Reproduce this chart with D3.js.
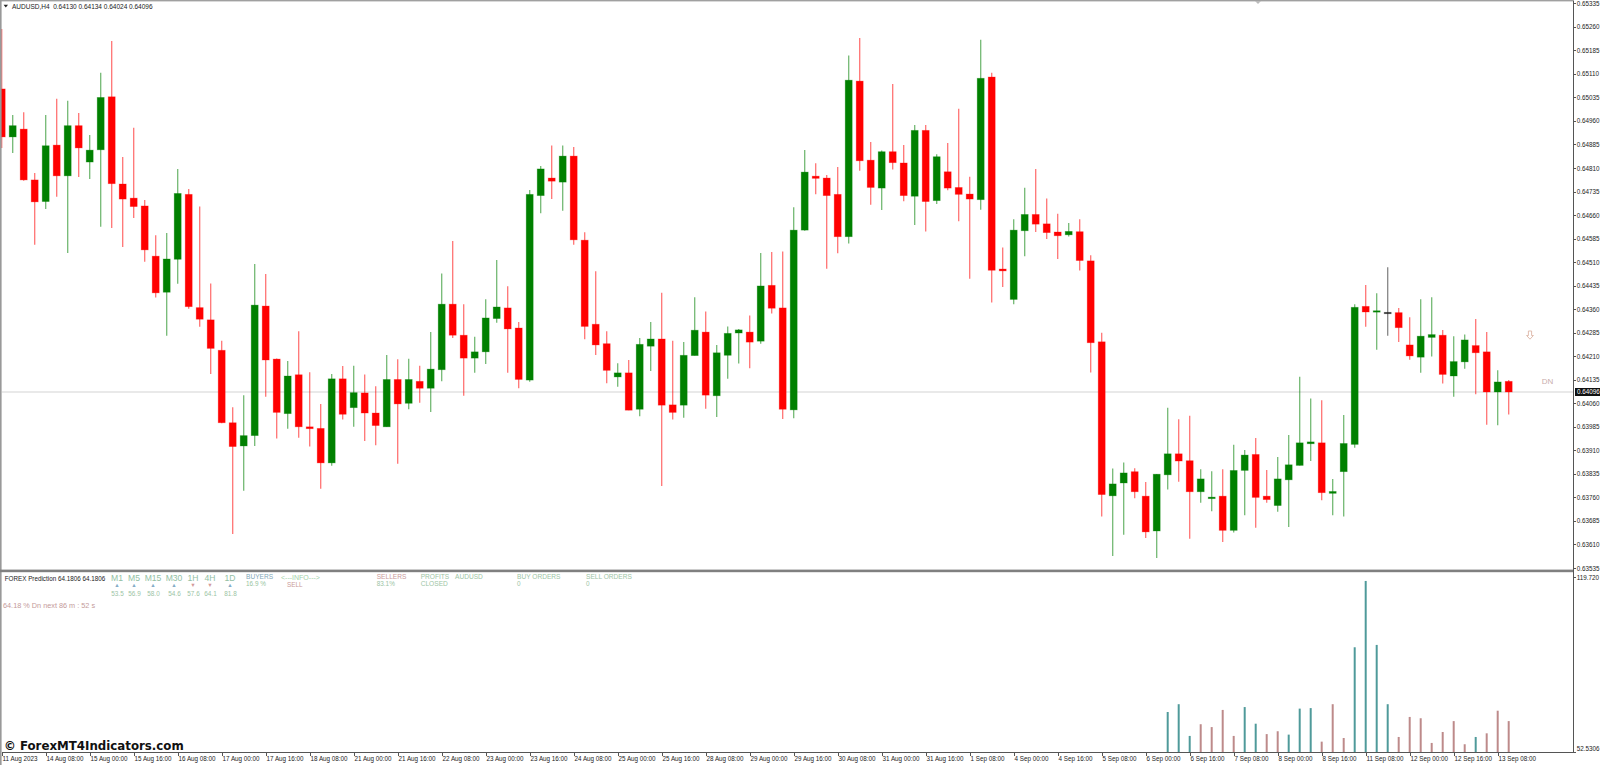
<!DOCTYPE html>
<html>
<head>
<meta charset="utf-8">
<title>AUDUSD,H4</title>
<script src="https://cdn.jsdelivr.net/npm/d3@7"></script>
<style>
  html, body { margin: 0; padding: 0; background: #fff; overflow: hidden; }
  svg { display: block; font-family: "Liberation Sans", sans-serif; }
  .axis path, .axis line { stroke: #555; shape-rendering: crispEdges; }
  .axis text { fill: #1c1c1c; font-size: 6.3px; }
  .panel text { font-size: 6.4px; }
</style>
</head>
<body>
<div id="chart"></div>
<script>
// H4 candles
var opens = [
  0.65062,0.64909,0.64934,0.64772,0.64703,0.64883,0.64785,0.64945,0.64829,0.64868,
  0.65037,0.64759,0.64714,0.64689,0.64529,0.64414,0.64519,0.64726,0.64365,0.64326,
  0.64229,0.63998,0.63924,0.63957,0.64370,0.64201,0.64027,0.64151,0.63985,0.63980,
  0.63870,0.64138,0.64046,0.64093,0.64029,0.63985,0.64136,0.64060,0.64130,0.64108,
  0.64167,0.64376,0.64277,0.64204,0.64224,0.64330,0.64364,0.64300,0.64134,0.64722,
  0.64778,0.64765,0.64848,0.64580,0.64312,0.64250,0.64144,0.64157,0.64041,0.64242,
  0.64265,0.64055,0.64054,0.64212,0.64287,0.64084,0.64213,0.64284,0.64287,0.64258,
  0.64436,0.64364,0.64039,0.64612,0.64784,0.64778,0.64726,0.64591,0.65087,0.64835,
  0.64746,0.64862,0.64826,0.64720,0.64930,0.64706,0.64798,0.64748,0.64727,0.64709,
  0.65100,0.64488,0.64391,0.64610,0.64662,0.64632,0.64606,0.64597,0.64607,0.64514,
  0.64256,0.63765,0.63806,0.63842,0.63764,0.63653,0.63832,0.63899,0.63877,0.63778,
  0.63756,0.63764,0.63655,0.63846,0.63897,0.63764,0.63734,0.63816,0.63862,0.63931,
  0.63934,0.63773,0.63842,0.63929,0.64369,0.64352,0.64350,0.64349,0.64246,0.64207,
  0.64270,0.64277,0.64147,0.64192,0.64244,0.64224,0.64096,0.64130
];
var highs = [
  0.65253,0.64979,0.64988,0.64794,0.64979,0.65031,0.65024,0.64985,0.64915,0.65114,
  0.65215,0.64845,0.64938,0.64708,0.64596,0.64603,0.64807,0.64743,0.64687,0.64442,
  0.64259,0.64047,0.64086,0.64504,0.64472,0.64203,0.64195,0.64290,0.64159,0.64058,
  0.64153,0.64179,0.64180,0.64152,0.64114,0.64214,0.64200,0.64202,0.64180,0.64287,
  0.64474,0.64577,0.64376,0.64272,0.64392,0.64517,0.64433,0.64319,0.64740,0.64816,
  0.64882,0.64882,0.64877,0.64605,0.64481,0.64290,0.64188,0.64198,0.64268,0.64319,
  0.64412,0.64259,0.64255,0.64398,0.64353,0.64246,0.64305,0.64297,0.64340,0.64539,
  0.64542,0.64544,0.64685,0.64867,0.64825,0.64788,0.64813,0.65169,0.65224,0.64893,
  0.64866,0.65078,0.64883,0.64947,0.64947,0.64854,0.64890,0.64999,0.64782,0.65219,
  0.65114,0.64557,0.64647,0.64747,0.64807,0.64713,0.64664,0.64635,0.64647,0.64532,
  0.64285,0.63852,0.63871,0.63853,0.63809,0.63835,0.64046,0.64009,0.64020,0.63850,
  0.63843,0.63850,0.63928,0.63911,0.63949,0.63847,0.63889,0.63959,0.64145,0.64075,
  0.64070,0.63819,0.64023,0.64376,0.64437,0.64411,0.64494,0.64364,0.64334,0.64392,
  0.64398,0.64294,0.64274,0.64279,0.64329,0.64287,0.64165,0.64134
];
var lows = [
  0.64874,0.64858,0.64769,0.64565,0.64679,0.64718,0.64539,0.64781,0.64775,0.64623,
  0.64619,0.64558,0.64651,0.64511,0.64397,0.64275,0.64441,0.64361,0.64304,0.64153,
  0.63996,0.63643,0.63781,0.63924,0.64081,0.63948,0.63979,0.63950,0.63922,0.63788,
  0.63861,0.64008,0.63985,0.63940,0.63926,0.63985,0.63867,0.64041,0.64062,0.64032,
  0.64130,0.64268,0.64084,0.64157,0.64185,0.64317,0.64157,0.64108,0.64129,0.64666,
  0.64711,0.64674,0.64565,0.64264,0.64214,0.64124,0.64113,0.64038,0.64019,0.64163,
  0.63796,0.64008,0.64014,0.64212,0.64043,0.64016,0.64138,0.64187,0.64172,0.64250,
  0.64346,0.64010,0.64012,0.64610,0.64726,0.64489,0.64538,0.64569,0.64801,0.64693,
  0.64676,0.64805,0.64704,0.64628,0.64608,0.64695,0.64739,0.64640,0.64457,0.64677,
  0.64381,0.64431,0.64376,0.64529,0.64606,0.64584,0.64520,0.64592,0.64483,0.64158,
  0.63699,0.63573,0.63641,0.63757,0.63631,0.63567,0.63785,0.63810,0.63628,0.63743,
  0.63716,0.63618,0.63648,0.63703,0.63663,0.63743,0.63714,0.63666,0.63862,0.63876,
  0.63751,0.63703,0.63699,0.63918,0.64304,0.64231,0.64275,0.64255,0.64199,0.64157,
  0.64209,0.64123,0.64081,0.64170,0.64089,0.63992,0.63990,0.64024
];
var closes = [
  0.64909,0.64945,0.64772,0.64702,0.64881,0.64785,0.64945,0.64874,0.64867,0.65035,
  0.64760,0.64711,0.64687,0.64549,0.64412,0.64520,0.64729,0.64368,0.64328,0.64235,
  0.63998,0.63922,0.63957,0.64373,0.64198,0.64031,0.64147,0.63985,0.63979,0.63870,
  0.64138,0.64025,0.64094,0.64029,0.63989,0.64136,0.64058,0.64136,0.64108,0.64169,
  0.64376,0.64277,0.64204,0.64224,0.64332,0.64367,0.64297,0.64136,0.64726,0.64807,
  0.64768,0.64848,0.64581,0.64305,0.64246,0.64165,0.64157,0.64038,0.64248,0.64265,
  0.64054,0.64031,0.64213,0.64293,0.64086,0.64221,0.64283,0.64294,0.64255,0.64434,
  0.64363,0.64041,0.64612,0.64797,0.64777,0.64722,0.64591,0.65090,0.64833,0.64748,
  0.64862,0.64827,0.64722,0.64930,0.64703,0.64846,0.64746,0.64726,0.64711,0.65096,
  0.64484,0.64482,0.64612,0.64662,0.64631,0.64604,0.64594,0.64608,0.64515,0.64253,
  0.63769,0.63803,0.63838,0.63778,0.63650,0.63834,0.63899,0.63876,0.63778,0.63819,
  0.63761,0.63655,0.63846,0.63895,0.63760,0.63753,0.63819,0.63864,0.63934,0.63937,
  0.63775,0.63779,0.63932,0.64366,0.64351,0.64355,0.64350,0.64301,0.64211,0.64274,
  0.64279,0.64152,0.64193,0.64262,0.64221,0.64096,0.64128,0.64096
];

var priceTicks = [
  0.65335,0.65260,0.65185,0.65110,0.65035,0.64960,0.64885,0.64810,0.64735,0.64660,
  0.64585,0.64510,0.64435,0.64360,0.64285,0.64210,0.64135,0.64060,0.63985,0.63910,
  0.63835,0.63760,0.63685,0.63610,0.63535
];
var lastPrice = 0.64096;

// one date label every 4 candles
var dateLabels = [
  "11 Aug 2023","14 Aug 08:00","15 Aug 00:00","15 Aug 16:00","16 Aug 08:00","17 Aug 00:00",
  "17 Aug 16:00","18 Aug 08:00","21 Aug 00:00","21 Aug 16:00","22 Aug 08:00","23 Aug 00:00",
  "23 Aug 16:00","24 Aug 08:00","25 Aug 00:00","25 Aug 16:00","28 Aug 08:00","29 Aug 00:00",
  "29 Aug 16:00","30 Aug 08:00","31 Aug 00:00","31 Aug 16:00","1 Sep 08:00","4 Sep 00:00",
  "4 Sep 16:00","5 Sep 08:00","6 Sep 00:00","6 Sep 16:00","7 Sep 08:00","8 Sep 00:00",
  "8 Sep 16:00","11 Sep 08:00","12 Sep 00:00","12 Sep 16:00","13 Sep 08:00"
];

// FOREX Prediction histogram, only the last 32 candles have a bar
var histStart = 106;
var histValues = [
  67.8,70.8,58.6,63.1,62.0,68.6,58.6,69.7,63.3,59.3,60.4,59.1,69.1,69.3,56.4,70.8,
  57.8,92.7,118.2,93.6,70.8,58.2,65.9,65.4,55.9,60.1,64.3,55.4,58.2,59.6,68.3,64.3
];
var histSides = [
  "b","b","b","s","s","s","s","b","b","s","s","b","b","b","s","s",
  "s","b","b","b","b","s","s","s","s","s","s","s","b","s","s","s"
];
var histTicks = [119.720, 52.5306];

var tfNames = ["M1","M5","M15","M30","1H","4H","1D"];
var tfValues = ["53.5","56.9","58.0","54.6","57.6","64.1","81.8"];
var tfSides = ["up","up","up","up","dn","dn","up"];
var tfCenters = [117,134,153,174,193,210,230];

var width = 1600, height = 765;
var plotLeft = 1.7, plotRight = 1573.5;
var lastIndex = opens.length - 1;

var svg = d3.select("#chart").append("svg")
  .attr("width", width)
  .attr("height", height);

var x = d3.scaleLinear().domain([0, lastIndex]).range([plotLeft, 1508.7]);
var y = d3.scaleLinear().domain([0.63535, 0.65335]).range([568, 3.3]);
var yHist = d3.scaleLinear().domain([52.5306, 119.720]).range([751.7, 577]);

var candles = opens.map(function(o, i) {
  return { i: i, open: o, high: highs[i], low: lows[i], close: closes[i] };
});

function candleColor(d) {
  if (d.close > d.open) return "#008000";
  if (d.close < d.open) return "#ff0000";
  return "#222";
}

// bid line goes under the candles
svg.append("line")
  .attr("x1", plotLeft).attr("x2", plotRight)
  .attr("y1", y(lastPrice)).attr("y2", y(lastPrice))
  .attr("stroke", "#d4d4d4").attr("stroke-width", 1.2);

var candleGroup = svg.append("g").attr("class", "candles");

candleGroup.selectAll("line")
  .data(candles)
  .enter()
  .append("line")
  .attr("x1", function(d) { return x(d.i); })
  .attr("x2", function(d) { return x(d.i); })
  .attr("y1", function(d) { return y(d.high); })
  .attr("y2", function(d) { return y(d.low); })
  .attr("stroke", candleColor)
  .attr("stroke-width", 1.3)
  .attr("stroke-opacity", 0.55);

candleGroup.selectAll("rect")
  .data(candles)
  .enter()
  .append("rect")
  .attr("x", function(d) { return x(d.i) - 3.5; })
  .attr("width", 7)
  .attr("y", function(d) { return y(Math.max(d.open, d.close)); })
  .attr("height", function(d) { return Math.max(1.4, Math.abs(y(d.open) - y(d.close))); })
  .attr("fill", candleColor)
  .attr("stroke", candleColor)
  .attr("stroke-width", 0.8)
  .attr("stroke-opacity", 0.35);

// histogram in the lower window
var histGroup = svg.append("g");
histGroup.selectAll("line")
  .data(histValues)
  .enter()
  .append("line")
  .attr("x1", function(d, i) { return x(histStart + i); })
  .attr("x2", function(d, i) { return x(histStart + i); })
  .attr("y1", function(d) { return yHist(d); })
  .attr("y2", 752.7)
  .attr("stroke", function(d, i) { return histSides[i] == "b" ? "#4f9a9a" : "#bd8a8a"; })
  .attr("stroke-width", 2);

// window frames
svg.append("rect").attr("x", 0).attr("y", 0).attr("width", width - 26).attr("height", 1.4).attr("fill", "#a0a0a0");
svg.append("rect").attr("x", 0).attr("y", 0).attr("width", 1.6).attr("height", height).attr("fill", "#999");
svg.append("rect").attr("x", 0).attr("y", 569.6).attr("width", plotRight).attr("height", 2.6).attr("fill", "#808080");

// axes
var priceAxis = d3.axisRight(y)
  .tickValues(priceTicks)
  .tickSize(2)
  .tickPadding(1.2)
  .tickFormat(d3.format(".5f"));
svg.append("g")
  .attr("class", "axis")
  .attr("transform", "translate(" + plotRight + ",0)")
  .call(priceAxis)
  .call(function(g) { g.select(".domain").remove(); });

var histAxis = d3.axisRight(yHist)
  .tickValues(histTicks)
  .tickSize(2)
  .tickPadding(1.2)
  .tickFormat(function(d) { return d == 52.5306 ? "52.5306" : "119.720"; });
svg.append("g")
  .attr("class", "axis")
  .attr("transform", "translate(" + plotRight + ",0)")
  .call(histAxis)
  .call(function(g) {
    g.select(".domain").remove();
    // the minimum label sits a little above its tick
    g.selectAll("text").filter(function(d) { return d == 52.5306; }).attr("y", -3);
  });

svg.append("line")
  .attr("x1", plotRight).attr("x2", plotRight).attr("y1", 1).attr("y2", 753)
  .attr("stroke", "#555").attr("stroke-width", 1);

var timeAxis = d3.axisBottom(x)
  .tickValues(dateLabels.map(function(d, i) { return i * 4; }))
  .tickSize(3)
  .tickPadding(1.2)
  .tickFormat(function(d) { return dateLabels[d / 4]; });
svg.append("g")
  .attr("class", "axis")
  .attr("transform", "translate(0,752.7)")
  .call(timeAxis)
  .call(function(g) {
    g.select(".domain").attr("d", "M" + plotLeft + ",0H" + plotRight);
    g.selectAll("text").attr("text-anchor", "start").attr("dx", "0.3px");
  });

// current price tag
svg.append("rect")
  .attr("x", 1575).attr("y", y(lastPrice) - 4).attr("width", 25).attr("height", 8)
  .attr("fill", "#111");
svg.append("text")
  .attr("x", 1577).attr("y", y(lastPrice) + 2.3)
  .attr("fill", "#fff").attr("font-size", 6.3)
  .text(d3.format(".5f")(lastPrice));

// header
svg.append("path")
  .attr("d", "M3.6,4.8H8L5.8,7.4Z")
  .attr("fill", "#222");
svg.append("text")
  .attr("x", 12).attr("y", 8.6)
  .attr("fill", "#222").attr("font-size", 6.5)
  .attr("xml:space", "preserve")
  .text("AUDUSD,H4  0.64130 0.64134 0.64024 0.64096");

// small marker on the top edge
svg.append("path")
  .attr("d", "M1255,1H1261L1258,4Z")
  .attr("fill", "#bbb");

// signal marks on the right of the chart
svg.append("path")
  .attr("d", "M1528.4,331H1531.6V335.5H1533.4L1530,339.2L1526.6,335.5H1528.4Z")
  .attr("fill", "none")
  .attr("stroke", "#dcb5a6")
  .attr("stroke-width", 0.9);
svg.append("text")
  .attr("x", 1547.5).attr("y", 384)
  .attr("text-anchor", "middle")
  .attr("fill", "#c9adad").attr("font-size", 8)
  .text("DN");

// indicator panel
var panel = svg.append("g").attr("class", "panel");

function label(txt, px, py, color, size, anchor) {
  return panel.append("text")
    .attr("x", px).attr("y", py)
    .attr("fill", color)
    .attr("text-anchor", anchor || "start")
    .style("font-size", (size || 6.4) + "px")
    .text(txt);
}

label("FOREX Prediction 64.1806 64.1806", 4.7, 580.6, "#222", 6.3);

tfNames.forEach(function(name, i) {
  label(name, tfCenters[i], 581, "#93bfa4", 8.6, "middle");
  label(tfSides[i] == "up" ? "\u25B2" : "\u25BC", tfCenters[i], 587, tfSides[i] == "up" ? "#86abc8" : "#d29a9a", 5.5, "middle");
  label(tfValues[i], tfCenters[i] + 0.5, 595.5, "#9cc4a4", 6.4, "middle");
});

label("BUYERS", 246, 578.5, "#7fa7b7", 6.6);
label("16.9 %", 246, 586, "#97c4a0", 6.4);
label("<---INFO--->", 281, 580, "#a3d2aa", 7);
label("SELL", 287, 587.2, "#c99a9a", 6.4);
label("64.18 % Dn next 86 m : 52 s", 3, 607.6, "#c49a9a", 7.3);

label("SELLERS", 376.7, 578.6, "#c99a9a", 6.6);
label("83.1%", 376.7, 586, "#9cc4a4", 6.4);
label("PROFITS", 420.7, 578.6, "#9cc4a4", 6.6);
label("CLOSED", 420.7, 586, "#9cc4a4", 6.6);
label("AUDUSD", 455, 578.6, "#9cc4a4", 6.6);
label("BUY ORDERS", 517, 578.6, "#9cc4a4", 6.6);
label("0", 517, 586, "#9cc4a4", 6.4);
label("SELL ORDERS", 586, 578.6, "#9cc4a4", 6.6);
label("0", 586, 586, "#9cc4a4", 6.4);

// site watermark
svg.append("text")
  .attr("x", 4).attr("y", 750)
  .attr("fill", "#111")
  .attr("font-family", "DejaVu Sans")
  .attr("font-weight", "bold")
  .attr("font-size", 11.8)
  .text("\u00A9 ForexMT4Indicators.com");
</script>
</body>
</html>
